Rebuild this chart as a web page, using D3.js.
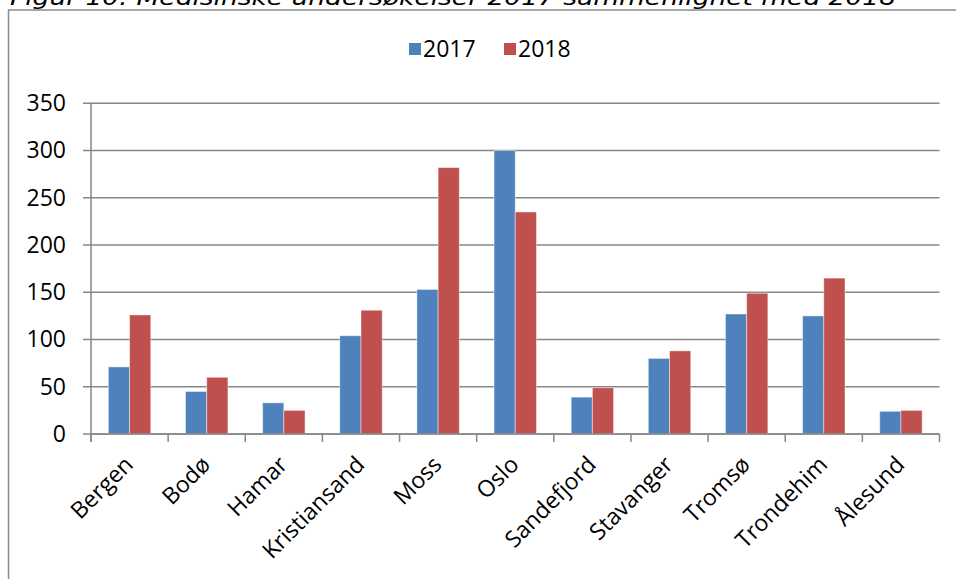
<!DOCTYPE html>
<html>
<head>
<meta charset="utf-8">
<script src="https://cdn.jsdelivr.net/npm/d3@7"></script>
<style>
  html, body { margin: 0; padding: 0; background: #fff; overflow: hidden; }
  text { font-family: "Open Sans", "Noto Sans", sans-serif; fill: #000; }
</style>
</head>
<body>
<script>
"use strict";

// data
const cities = ['Bergen', 'Bodø', 'Hamar', 'Kristiansand', 'Moss', 'Oslo',
                'Sandefjord', 'Stavanger', 'Tromsø', 'Trondehim', 'Ålesund'];
const years = ['2017', '2018'];
const values2017 = [71, 45, 33, 104, 153, 300, 39, 80, 127, 125, 24];
const values2018 = [126, 60, 25, 131, 282, 235, 49, 88, 149, 165, 25];
const yTicks = [0, 50, 100, 150, 200, 250, 300, 350];
const title = 'Figur 10: Medisinske undersøkelser 2017 sammenlignet med 2018';

const W = 956, H = 579;
const colors = {'2017': '#4F81BD', '2018': '#C0504D'};
const grid = '#878787';
const font = '"Open Sans", "Noto Sans", sans-serif';

// plot box
const margin = {left: 91, right: W - 939.5, top: 103.3, bottom: H - 434};

const svg = d3.select('body').append('svg')
    .attr('width', W)
    .attr('height', H);

// title, cut off at the top like the scan
svg.append('text')
    .attr('x', 10)
    .attr('y', 5)
    .attr('textLength', 886)
    .attr('lengthAdjust', 'spacingAndGlyphs')
    .style('font-family', '"DejaVu Sans", sans-serif')
    .style('font-style', 'italic')
    .style('font-size', '22px')
    .text(title);

// chart frame
svg.append('rect')
    .attr('x', 8.5).attr('y', 10)
    .attr('width', W + 10).attr('height', H + 10)
    .attr('fill', 'none')
    .attr('stroke', '#8a8a8a')
    .attr('stroke-width', 1.5);

const x = d3.scaleBand()
    .domain(cities)
    .range([margin.left, W - margin.right])
    .padding(0);

const xInner = d3.scaleBand()
    .domain(years)
    .range([x.bandwidth() * 0.225, x.bandwidth() * 0.775])
    .padding(0);

const y = d3.scaleLinear()
    .domain([0, 350])
    .range([H - margin.bottom, margin.top]);

// gridlines
svg.append('g')
    .selectAll('line')
    .data(yTicks)
    .enter()
    .append('line')
    .attr('x1', margin.left - 8)
    .attr('x2', W - margin.right)
    .attr('y1', (d) => y(d))
    .attr('y2', (d) => y(d))
    .attr('stroke', grid)
    .attr('stroke-width', 1.5);

// y axis
const yAxis = svg.append('g')
    .attr('transform', 'translate(' + margin.left + ',0)')
    .call(d3.axisLeft(y).tickValues(yTicks).tickSize(0).tickPadding(25));
yAxis.select('.domain').remove();
yAxis.selectAll('text')
    .style('font-size', '23px')
    .style('font-family', font);

// bars
const rows = cities.map((c, i) => ({city: c, '2017': values2017[i], '2018': values2018[i]}));
svg.append('g')
    .selectAll('g')
    .data(rows)
    .enter()
    .append('g')
    .attr('transform', (d) => 'translate(' + x(d.city) + ',0)')
    .selectAll('rect')
    .data((d) => years.map((yr) => ({year: yr, value: d[yr]})))
    .enter()
    .append('rect')
    .attr('x', (d) => xInner(d.year))
    .attr('y', (d) => y(d.value))
    .attr('width', xInner.bandwidth())
    .attr('height', (d) => y(0) - y(d.value))
    .attr('fill', (d) => colors[d.year])
    .attr('stroke', 'rgba(255,255,255,0.45)')
    .attr('stroke-width', 1);

// x axis line and ticks
const xAxis = svg.append('g')
    .attr('transform', 'translate(0,' + y(0) + ')');
xAxis.append('line')
    .attr('x1', margin.left).attr('x2', W - margin.right)
    .attr('stroke', grid).attr('stroke-width', 1.5);
xAxis.selectAll('line.tick')
    .data(cities.concat(['end']))
    .enter()
    .append('line')
    .attr('class', 'tick')
    .attr('x1', (d) => d === 'end' ? x.range()[1] : x(d))
    .attr('x2', (d) => d === 'end' ? x.range()[1] : x(d))
    .attr('y1', 0).attr('y2', 8)
    .attr('stroke', grid).attr('stroke-width', 1.5);
// y axis line
svg.append('line')
    .attr('x1', margin.left).attr('x2', margin.left)
    .attr('y1', y(350)).attr('y2', y(0) + 8)
    .attr('stroke', grid).attr('stroke-width', 1.5);

// rotated city labels
svg.append('g')
    .selectAll('text')
    .data(cities)
    .enter()
    .append('text')
    .attr('transform', (d) => 'translate(' + (x(d) + x.bandwidth() / 2 + 5) + ',' + (y(0) + 32) + ') rotate(-45)')
    .attr('text-anchor', 'end')
    .style('font-size', '23px')
    .text((d) => d);

// legend
const legend = svg.append('g');
const legendX = [409, 504];
years.forEach((yr, i) => {
    legend.append('rect')
        .attr('x', legendX[i]).attr('y', 43)
        .attr('width', 12).attr('height', 12)
        .attr('fill', colors[yr]);
    legend.append('text')
        .attr('x', legendX[i] + 14).attr('y', 49)
        .attr('dy', '0.36em')
        .style('font-size', '23px')
        .text(yr);
});
</script>
</body>
</html>
